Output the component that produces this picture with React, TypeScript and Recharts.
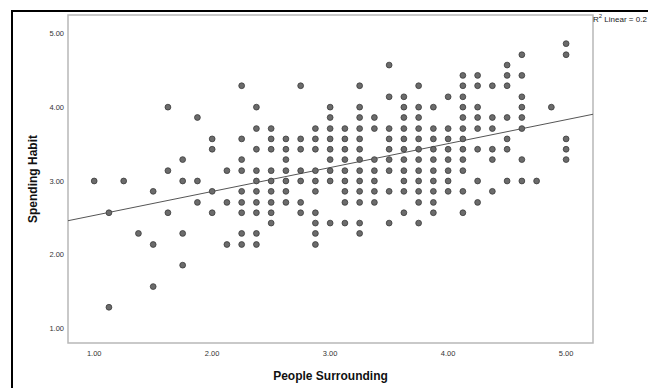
import React from 'react';
import { ScatterChart, Scatter, XAxis, YAxis, ReferenceLine, ReferenceArea } from 'recharts';

// People Surrounding values (x) and the Spending Habit values (y) observed at each
const xColumns = [
  1.0, 1.125, 1.25, 1.375, 1.5, 1.625, 1.75, 1.875, 2.0, 2.125, 2.25, 2.375, 2.5, 2.625, 2.75, 2.875,
  3.0, 3.125, 3.25, 3.375, 3.5, 3.625, 3.75, 3.875, 4.0, 4.125, 4.25, 4.375, 4.5, 4.625, 4.75, 4.875, 5.0,
];

const yColumns: number[][] = [
  [3.0],
  [2.57, 1.29],
  [3.0],
  [2.29],
  [2.86, 2.14, 1.57],
  [4.0, 3.14, 2.57],
  [3.29, 3.0, 2.29, 1.86],
  [3.86, 3.0, 2.71],
  [3.57, 3.43, 2.86, 2.57],
  [3.14, 2.71, 2.14],
  [4.29, 3.57, 3.29, 3.14, 2.86, 2.71, 2.57, 2.29, 2.14],
  [4.0, 3.71, 3.43, 3.14, 3.0, 2.86, 2.71, 2.57, 2.29, 2.14],
  [3.71, 3.57, 3.43, 3.14, 3.0, 2.86, 2.71, 2.57, 2.43],
  [3.57, 3.43, 3.29, 3.14, 3.0, 2.86, 2.71],
  [4.29, 3.57, 3.43, 3.14, 3.0, 2.71, 2.57],
  [3.71, 3.57, 3.43, 3.14, 3.0, 2.86, 2.57, 2.43, 2.29, 2.14],
  [4.0, 3.86, 3.71, 3.57, 3.43, 3.29, 3.14, 3.0, 2.43],
  [3.71, 3.57, 3.43, 3.29, 3.14, 3.0, 2.86, 2.71, 2.43],
  [4.29, 4.0, 3.86, 3.71, 3.57, 3.43, 3.29, 3.14, 3.0, 2.86, 2.71, 2.43, 2.29],
  [3.86, 3.71, 3.29, 3.14, 3.0, 2.86, 2.71],
  [4.57, 4.14, 3.71, 3.57, 3.43, 3.29, 3.14, 2.86, 2.43],
  [4.14, 4.0, 3.86, 3.71, 3.57, 3.43, 3.29, 3.14, 3.0, 2.86, 2.57],
  [4.29, 4.0, 3.86, 3.71, 3.57, 3.43, 3.29, 3.14, 3.0, 2.86, 2.71, 2.43],
  [4.0, 3.71, 3.57, 3.43, 3.29, 3.14, 3.0, 2.86, 2.71, 2.57],
  [4.14, 3.71, 3.57, 3.43, 3.29, 3.14, 3.0, 2.86],
  [4.43, 4.29, 4.14, 4.0, 3.86, 3.71, 3.57, 3.43, 3.29, 3.14, 2.86, 2.57],
  [4.43, 4.29, 4.0, 3.86, 3.71, 3.43, 3.0, 2.71],
  [4.29, 3.86, 3.71, 3.43, 3.29, 2.86],
  [4.57, 4.43, 4.29, 3.86, 3.57, 3.43, 3.0],
  [4.71, 4.43, 4.14, 4.0, 3.86, 3.71, 3.29, 3.0],
  [3.0],
  [4.0],
  [4.86, 4.71, 3.57, 3.43, 3.29],
];

const xTicks = [1, 2, 3, 4, 5];
const yTicks = [1, 2, 3, 4, 5];

// linear fit line parameters
const fitIntercept = 2.21;
const fitSlope = 0.324;

const X_MIN = 0.778;
const X_MAX = 5.228;
const Y_MIN = 0.806;
const Y_MAX = 5.248;

const points = xColumns.flatMap((x, i) => yColumns[i].map((y) => ({ x, y })));

const fitSegment = [
  { x: X_MIN, y: fitIntercept + fitSlope * X_MIN },
  { x: X_MAX, y: fitIntercept + fitSlope * X_MAX },
];

const Dot = (props: any) => {
  const { cx, cy } = props;
  if (cx == null || cy == null) return null;
  return <circle cx={cx} cy={cy} r={2.9} fill="#6b6b6b" stroke="#3a3a3a" strokeWidth={0.8} />;
};

const tickStyle = { fontSize: 7.5, fill: '#333', fontFamily: 'Liberation Sans, Arial, sans-serif' };
const titleStyle = { fontSize: 12, fontWeight: 700, fill: '#111', fontFamily: 'Liberation Sans, Arial, sans-serif' };

export default function App() {
  return (
    <div
      style={{
        position: 'absolute',
        left: 0,
        top: 0,
        width: 648,
        height: 388,
        overflow: 'hidden',
        background: '#fff',
      }}
    >
      <div
        style={{
          position: 'absolute',
          left: 11,
          top: 10,
          width: 700,
          height: 420,
          border: '2px solid #000',
          boxSizing: 'border-box',
        }}
      />
      <div style={{ position: 'absolute', left: 0, top: 0 }}>
        <ScatterChart width={648} height={388} margin={{ top: 15, right: 55, bottom: 0, left: 0 }}>
          <XAxis
            type="number"
            dataKey="x"
            domain={[X_MIN, X_MAX]}
            ticks={xTicks}
            allowDataOverflow
            height={45}
            axisLine={false}
            tickLine={false}
            tickSize={0}
            tickMargin={8}
            tick={tickStyle}
            tickFormatter={(v: number) => v.toFixed(2)}
            label={{ value: 'People Surrounding', position: 'insideBottom', offset: 8, style: titleStyle }}
          />
          <YAxis
            type="number"
            dataKey="y"
            domain={[Y_MIN, Y_MAX]}
            ticks={yTicks}
            allowDataOverflow
            width={68}
            axisLine={false}
            tickLine={false}
            tickSize={0}
            tickMargin={4}
            tick={tickStyle}
            tickFormatter={(v: number) => v.toFixed(2)}
            label={{
              value: 'Spending Habit',
              angle: -90,
              position: 'insideLeft',
              offset: 33,
              style: { ...titleStyle, textAnchor: 'middle' },
            }}
          />
          <ReferenceArea
            x1={X_MIN}
            x2={X_MAX}
            y1={Y_MIN}
            y2={Y_MAX}
            fill="none"
            stroke="#b8b8b8"
            strokeWidth={1.5}
            ifOverflow="visible"
          />
          <Scatter data={points} shape={Dot} isAnimationActive={false} />
          <ReferenceLine segment={fitSegment} stroke="#555" strokeWidth={1} ifOverflow="visible" />
        </ScatterChart>
      </div>
      <div
        style={{
          position: 'absolute',
          left: 593,
          top: 15,
          fontSize: 8,
          lineHeight: '10px',
          color: '#222',
          fontFamily: 'Liberation Sans, Arial, sans-serif',
          whiteSpace: 'nowrap',
        }}
      >
        R<sup style={{ fontSize: 6, verticalAlign: 'super', lineHeight: 0 }}>2</sup> Linear = 0.2
      </div>
    </div>
  );
}
